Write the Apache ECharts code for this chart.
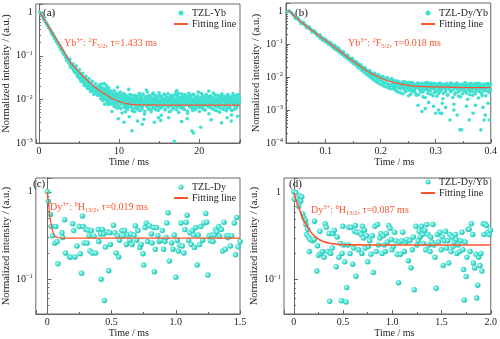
<!DOCTYPE html>
<html><head><meta charset="utf-8">
<script src="https://cdn.jsdelivr.net/npm/echarts@6/dist/echarts.min.js"></script>
<style>html,body{margin:0;padding:0;background:#fff}#c{width:500px;height:339px}</style>
</head><body><div id="c"></div>
<script>
// ---------- Panel (a): TZL-Yb ----------
const aFit = [[0.1,1.0],[0.5,0.76],[1,0.537],[1.5,0.38],[2,0.269],[2.5,0.191],[3,0.135],[3.5,0.095],[3.7,0.083],[4,0.068],[4.5,0.054],[5,0.043],[5.5,0.034],[6,0.028],[6.5,0.023],[7,0.019],[7.5,0.0163],[8,0.014],[8.5,0.0124],[9,0.0108],[9.5,0.0097],[10,0.009],[10.5,0.0084],[11,0.008],[11.5,0.0077],[12,0.0076],[13,0.0075],[15,0.0074],[20,0.0074],[25.1,0.0074]];
const aDecay = [[0.1,1.0],[0.2,0.95],[0.3,0.86],[0.4,0.80],[0.5,0.76],[0.6,0.69],[0.7,0.66],[0.8,0.60],[0.9,0.57],[1.0,0.52],[1.1,0.50],[1.2,0.45],[1.3,0.43],[1.4,0.39],[1.5,0.37],[1.6,0.34],[1.7,0.33],[1.8,0.29],[1.9,0.28],[2.0,0.26],[2.1,0.24],[2.2,0.225],[2.3,0.205],[2.4,0.196],[2.5,0.178],[2.6,0.170],[2.7,0.152],[2.8,0.148],[2.9,0.134],[3.0,0.128],[3.1,0.115],[3.2,0.110],[3.3,0.100],[3.4,0.097],[3.5,0.086],[3.6,0.083],[3.7,0.076],[3.8,0.073],[3.9,0.066],[4.0,0.064],[4.1,0.058],[4.2,0.058],[4.3,0.052],[4.4,0.053],[4.5,0.047],[4.6,0.048],[4.7,0.042],[4.8,0.044],[4.9,0.038],[5.0,0.041],[5.1,0.035],[5.2,0.037],[5.3,0.032],[5.4,0.034],[5.5,0.029],[5.6,0.031],[5.7,0.027],[5.8,0.029],[5.9,0.025],[6.0,0.026],[6.1,0.023],[6.2,0.025],[6.3,0.021],[6.4,0.023],[6.5,0.020],[6.6,0.021],[6.7,0.018],[6.8,0.020],[6.9,0.017],[7.0,0.018],
[1.55,0.33],[1.75,0.29],[1.95,0.25],[2.15,0.21],[2.35,0.19],[2.55,0.16],[2.75,0.14],[2.95,0.12],[3.15,0.105],[3.35,0.090],[3.55,0.080],[3.75,0.068],[3.95,0.060],[4.15,0.052],[4.35,0.047],[4.55,0.041],[4.75,0.037],[4.95,0.032],[5.15,0.029],[5.35,0.027],[5.55,0.024],[5.75,0.022],[5.95,0.020],[6.15,0.019],[6.35,0.017],[6.55,0.016],[6.75,0.015],[6.95,0.014],
[4.65,0.058],[5.05,0.048],[5.45,0.040],[5.85,0.034],[6.25,0.030],[6.65,0.026],[7.05,0.023],[4.25,0.066],[3.85,0.084],
[3.45,0.078],[3.9,0.056],[4.4,0.043],[4.85,0.033],[5.25,0.026],[5.65,0.021],[6.05,0.018],[6.45,0.015],[6.85,0.013],
[7.1,0.016],[7.2,0.019],[7.3,0.015],[7.4,0.017],[7.15,0.0135],[7.35,0.0125]];
const aNoise = [[7.50,0.0214],[7.57,0.0138],[7.64,0.0173],[7.71,0.0104],[7.78,0.0226],[7.85,0.0145],[7.92,0.0108],[7.99,0.0166],[8.06,0.0128],[8.13,0.0230],[8.20,0.0078],[8.27,0.0140],[8.34,0.0178],[8.41,0.0103],[8.48,0.0126],[8.55,0.0151],[8.62,0.0076],[8.69,0.0186],[8.76,0.0104],[8.83,0.0130],[8.90,0.0082],[8.97,0.0155],[9.04,0.0101],[9.11,0.0053],[9.18,0.0130],[9.25,0.0108],[9.32,0.0083],[9.39,0.0160],[9.46,0.0068],[9.53,0.0111],[9.60,0.0082],[9.67,0.0124],[9.74,0.0063],[9.81,0.0102],[9.88,0.0089],[9.95,0.0135],[10.02,0.0105],[10.09,0.0066],[10.16,0.0147],[10.23,0.0080],[10.30,0.0090],[10.37,0.0049],[10.44,0.0114],[10.51,0.0084],[10.58,0.0067],[10.65,0.0103],[10.72,0.0129],[10.79,0.0052],[10.86,0.0072],[10.93,0.0116],[11.00,0.0091],[11.07,0.0059],[11.14,0.0076],[11.21,0.0100],[11.28,0.0040],[11.35,0.0129],[11.42,0.0085],[11.49,0.0066],[11.56,0.0090],[11.63,0.0055],[11.70,0.0103],[11.77,0.0076],[11.84,0.0116],[11.91,0.0052],[11.98,0.0086],
[12.05,0.0098],[12.12,0.0071],[12.19,0.0120],[12.26,0.0084],[12.33,0.0062],[12.40,0.0105],[12.47,0.0091],[12.54,0.0139],[12.61,0.0076],[12.68,0.0055],[12.75,0.0110],[12.82,0.0088],[12.89,0.0067],[12.96,0.0127],[13.03,0.0095],[13.10,0.0079],[13.17,0.0046],[13.24,0.0115],[13.31,0.0086],[13.38,0.0102],[13.45,0.0069],[13.52,0.0149],[13.59,0.0083],[13.66,0.0060],[13.73,0.0097],[13.80,0.0118],[13.87,0.0074],[13.94,0.0090],[14.01,0.0052],[14.08,0.0108],[14.15,0.0131],[14.22,0.0081],[14.29,0.0065],[14.36,0.0099],[14.43,0.0087],[14.50,0.0122],[14.57,0.0058],[14.64,0.0093],[14.71,0.0077],[14.78,0.0112],[14.85,0.0101],[14.92,0.0070],[14.99,0.0142],[15.06,0.0085],[15.13,0.0063],[15.20,0.0096],[15.27,0.0043],[15.34,0.0117],[15.41,0.0089],[15.48,0.0075],[15.55,0.0104],[15.62,0.0128],[15.69,0.0080],[15.76,0.0057],[15.83,0.0094],[15.90,0.0109],[15.97,0.0072],[16.04,0.0086],[16.11,0.0135],[16.18,0.0066],[16.25,0.0100],[16.32,0.0082],[16.39,0.0113],[16.46,0.0054],[16.53,0.0092],[16.60,0.0078],[16.67,0.0124],[16.74,0.0088],[16.81,0.0061],[16.88,0.0106],[16.95,0.0097],[17.02,0.0073],[17.09,0.0145],[17.16,0.0084],[17.23,0.0068],[17.30,0.0101],[17.37,0.0119],[17.44,0.0050],[17.51,0.0090],[17.58,0.0079],[17.65,0.0111],[17.72,0.0094],[17.79,0.0064],[17.86,0.0133],[17.93,0.0087],[18.00,0.0071],[18.07,0.0103],[18.14,0.0059],[18.21,0.0096],[18.28,0.0121],[18.35,0.0083],[18.42,0.0076],[18.49,0.0107],[18.56,0.0048],[18.63,0.0092],[18.70,0.0138],[18.77,0.0081],[18.84,0.0067],[18.91,0.0099],[18.98,0.0114],[19.05,0.0074],[19.12,0.0088],[19.19,0.0056],[19.26,0.0126],[19.33,0.0095],[19.40,0.0070],[19.47,0.0104],[19.54,0.0085],[19.61,0.0062],[19.68,0.0116],[19.75,0.0091],[19.82,0.0078],[19.89,0.0147],[19.96,0.0083],[20.03,0.0053],[20.10,0.0100],[20.17,0.0072],[20.24,0.0110],[20.31,0.0089],[20.38,0.0065],[20.45,0.0123],[20.52,0.0097],[20.59,0.0080],[20.66,0.0058],[20.73,0.0106],[20.80,0.0086],[20.87,0.0130],[20.94,0.0075],[21.01,0.0093],[21.08,0.0069],[21.15,0.0112],[21.22,0.0047],[21.29,0.0098],[21.36,0.0084],[21.43,0.0120],[21.50,0.0077],[21.57,0.0063],[21.64,0.0102],[21.71,0.0090],[21.78,0.0140],[21.85,0.0079],[21.92,0.0057],[21.99,0.0095],[22.06,0.0108],[22.13,0.0073],[22.20,0.0087],[22.27,0.0125],[22.34,0.0066],[22.41,0.0099],[22.48,0.0082],[22.55,0.0051],[22.62,0.0113],[22.69,0.0094],[22.76,0.0076],[22.83,0.0134],[22.90,0.0088],[22.97,0.0061],[23.04,0.0101],[23.11,0.0118],[23.18,0.0070],[23.25,0.0092],[23.32,0.0081],[23.39,0.0055],[23.46,0.0109],[23.53,0.0086],[23.60,0.0127],[23.67,0.0074],[23.74,0.0096],[23.81,0.0064],[23.88,0.0115],[23.95,0.0083],[24.02,0.0044],[24.09,0.0103],[24.16,0.0090],[24.23,0.0136],[24.30,0.0078],[24.37,0.0059],[24.44,0.0097],[24.51,0.0121],[24.58,0.0085],[24.65,0.0068],[24.72,0.0105],[24.79,0.0093],[24.86,0.0072],[24.93,0.0129],[25.00,0.0087],
[11.6,0.0019],[16.9,0.0011],[19.1,0.0019],[19.3,0.0017],[20.2,0.0023],[12.3,0.0032],[13.1,0.0035],[14.4,0.0030],[15.2,0.0033],[17.8,0.0031],[18.5,0.0036],[21.5,0.0034],[22.8,0.0029],[24.0,0.0032],[9.9,0.0036],[10.6,0.0030],[23.5,0.0038],[12.9,0.0027],[16.2,0.0038],[14.9,0.0038],[24.8,0.0041],[8.4,0.021],[9.8,0.019],[11.2,0.017],[13.4,0.0165],[17.2,0.016],[21.2,0.0155]];
const aNoise2 = [[7.535,0.0158],[7.605,0.0195],[7.675,0.0121],[7.745,0.0167],[7.815,0.0132],[7.885,0.0188],[7.955,0.0094],[8.025,0.0149],[8.095,0.0116],[8.165,0.0170],[8.235,0.0124],[8.305,0.0098],[8.375,0.0152],[8.445,0.0119],[8.515,0.0087],[8.585,0.0137],[8.655,0.0110],[8.725,0.0161],[8.795,0.0093],[8.865,0.0121],[8.935,0.0142],[9.005,0.0079],[9.075,0.0117],[9.145,0.0136],[9.215,0.0095],[9.285,0.0122],[9.355,0.0071],[9.425,0.0128],[9.495,0.0092],[9.565,0.0140],[9.635,0.0103],[9.705,0.0085],[9.775,0.0118],[9.845,0.0074],[9.915,0.0109],[9.985,0.0126],[10.055,0.0088],[10.125,0.0112],[10.195,0.0061],[10.265,0.0101],[10.335,0.0124],[10.405,0.0083],[10.475,0.0096],[10.545,0.0136],[10.615,0.0078],[10.685,0.0092],[10.755,0.0110],[10.825,0.0064],[10.895,0.0098],[10.965,0.0120],[11.035,0.0081],[11.105,0.0107],[11.175,0.0069],[11.245,0.0093],[11.315,0.0115],[11.385,0.0074],[11.455,0.0101],[11.525,0.0126],[11.595,0.0080],[11.665,0.0094],[11.735,0.0061],[11.805,0.0106],[11.875,0.0089],[11.945,0.0124],
[12.015,0.0091],[12.085,0.0064],[12.155,0.0113],[12.225,0.0078],[12.295,0.0102],[12.365,0.0057],[12.435,0.0087],[12.505,0.0125],[12.575,0.0070],[12.645,0.0095],
[12.715,0.0082],[12.785,0.0108],[12.855,0.0061],[12.925,0.0099],[12.995,0.0133],[13.065,0.0076],[13.135,0.0089],[13.205,0.0053],[13.275,0.0104],[13.345,0.0092],
[13.415,0.0072],[13.485,0.0117],[13.555,0.0085],[13.625,0.0066],[13.695,0.0098],[13.765,0.0122],[13.835,0.0080],[13.905,0.0093],[13.975,0.0059],[14.045,0.0110],
[14.115,0.0087],[14.185,0.0074],[14.255,0.0141],[14.325,0.0096],[14.395,0.0063],[14.465,0.0106],[14.535,0.0081],[14.605,0.0119],[14.675,0.0068],[14.745,0.0090],
[14.815,0.0101],[14.885,0.0056],[14.955,0.0084],[15.025,0.0127],[15.095,0.0077],[15.165,0.0094],[15.235,0.0112],[15.305,0.0065],[15.375,0.0088],[15.445,0.0103],
[15.515,0.0073],[15.585,0.0098],[15.655,0.0132],[15.725,0.0060],[15.795,0.0091],[15.865,0.0079],[15.935,0.0115],[16.005,0.0086],[16.075,0.0069],[16.145,0.0107],
[16.215,0.0095],[16.285,0.0052],[16.355,0.0083],[16.425,0.0121],[16.495,0.0074],[16.565,0.0100],[16.635,0.0088],[16.705,0.0063],[16.775,0.0113],[16.845,0.0080],
[16.915,0.0097],[16.985,0.0071],[17.055,0.0126],[17.125,0.0085],[17.195,0.0058],[17.265,0.0104],[17.335,0.0092],[17.405,0.0077],[17.475,0.0139],[17.545,0.0083],
[17.615,0.0066],[17.685,0.0109],[17.755,0.0094],[17.825,0.0073],[17.895,0.0118],[17.965,0.0087],[18.035,0.0061],[18.105,0.0100],[18.175,0.0082],[18.245,0.0128],
[18.315,0.0075],[18.385,0.0093],[18.455,0.0106],[18.525,0.0054],[18.595,0.0089],[18.665,0.0115],[18.735,0.0079],[18.805,0.0097],[18.875,0.0068],[18.945,0.0124],
[19.015,0.0086],[19.085,0.0102],[19.155,0.0063],[19.225,0.0095],[19.295,0.0131],[19.365,0.0077],[19.435,0.0090],[19.505,0.0058],[19.575,0.0111],[19.645,0.0084],
[19.715,0.0099],[19.785,0.0070],[19.855,0.0119],[19.925,0.0088],[19.995,0.0065],[20.065,0.0105],[20.135,0.0093],[20.205,0.0076],[20.275,0.0136],[20.345,0.0081],
[20.415,0.0062],[20.485,0.0097],[20.555,0.0114],[20.625,0.0073],[20.695,0.0090],[20.765,0.0057],[20.835,0.0108],[20.905,0.0086],[20.975,0.0125],[21.045,0.0079],
[21.115,0.0094],[21.185,0.0067],[21.255,0.0103],[21.325,0.0088],[21.395,0.0072],[21.465,0.0120],[21.535,0.0083],[21.605,0.0061],[21.675,0.0099],[21.745,0.0112],
[21.815,0.0076],[21.885,0.0091],[21.955,0.0130],[22.025,0.0069],[22.095,0.0087],[22.165,0.0055],[22.235,0.0106],[22.305,0.0095],[22.375,0.0080],[22.445,0.0117],
[22.515,0.0084],[22.585,0.0064],[22.655,0.0098],[22.725,0.0123],[22.795,0.0075],[22.865,0.0092],[22.935,0.0108],[23.005,0.0059],[23.075,0.0089],[23.145,0.0101],
[23.215,0.0071],[23.285,0.0116],[23.355,0.0085],[23.425,0.0096],[23.495,0.0062],[23.565,0.0129],[23.635,0.0078],[23.705,0.0093],[23.775,0.0107],[23.845,0.0067],
[23.915,0.0088],[23.985,0.0104],[24.055,0.0056],[24.125,0.0097],[24.195,0.0121],[24.265,0.0080],[24.335,0.0091],[24.405,0.0073],[24.475,0.0114],[24.545,0.0086],
[24.615,0.0063],[24.685,0.0099],[24.755,0.0127],[24.825,0.0076],[24.895,0.0094],[24.965,0.0082],[25.035,0.0110]];

// ---------- Panel (b): TZL-Dy/Yb ----------
const bFit = [[0.031,0.98],[0.034,1.0],[0.04,0.80],[0.05,0.56],[0.06,0.41],[0.07,0.30],[0.08,0.225],[0.09,0.170],[0.10,0.128],[0.11,0.096],[0.12,0.072],[0.13,0.054],[0.14,0.040],[0.15,0.030],[0.16,0.023],[0.17,0.0175],[0.18,0.0138],[0.19,0.0112],[0.20,0.0093],[0.21,0.0080],[0.22,0.0071],[0.23,0.0065],[0.24,0.0060],[0.25,0.0056],[0.27,0.0052],[0.30,0.0050],[0.35,0.0048],[0.40,0.0048]];
const bDecay = [[0.031,0.97],[0.033,1.0],[0.035,0.97],[0.037,0.90],[0.039,0.83],[0.041,0.78],[0.043,0.71],[0.045,0.67],[0.047,0.61],[0.049,0.58],[0.051,0.54],[0.053,0.50],[0.055,0.47],[0.057,0.44],[0.059,0.42],[0.061,0.39],[0.063,0.37],[0.065,0.345],[0.067,0.33],[0.069,0.305],[0.071,0.29],[0.073,0.275],[0.075,0.258],[0.077,0.245],[0.079,0.228],[0.081,0.218],[0.083,0.205],[0.085,0.196],[0.087,0.183],[0.089,0.176],[0.091,0.164],[0.093,0.157],[0.095,0.147],[0.097,0.141],[0.099,0.131],[0.101,0.126],[0.103,0.117],[0.105,0.113],[0.107,0.104],[0.109,0.101],[0.111,0.092],[0.113,0.090],[0.115,0.082],[0.117,0.080],[0.119,0.073],[0.121,0.071],[0.123,0.065],[0.125,0.064],[0.127,0.057],[0.129,0.057],[0.131,0.051],[0.133,0.050],[0.135,0.045],[0.137,0.045],[0.139,0.040],[0.141,0.040],[0.143,0.035],[0.145,0.036],[0.147,0.031],[0.149,0.032],[0.151,0.028],[0.153,0.029],[0.155,0.025],[0.157,0.026],[0.159,0.022],[0.161,0.023],[0.163,0.0198],[0.165,0.021],[0.167,0.0178],[0.169,0.019],[0.171,0.0158],[0.173,0.0168],[0.175,0.0142],[0.177,0.0152],[0.179,0.0128],[0.181,0.0140],[0.183,0.0115],[0.185,0.0128],[0.187,0.0104],[0.189,0.0118],[0.191,0.0094],[0.193,0.0110],[0.195,0.0087],[0.197,0.0102],[0.199,0.0080],[0.201,0.0097],[0.203,0.0074],[0.205,0.0092],[0.207,0.0069],[0.209,0.0088],[0.211,0.0064],[0.213,0.0084],[0.215,0.0060],[0.217,0.0081],[0.219,0.0056],
[0.090,0.150],[0.094,0.135],[0.098,0.122],[0.102,0.112],[0.106,0.098],[0.110,0.087],[0.114,0.078],[0.118,0.068],[0.122,0.062],[0.126,0.054],[0.130,0.048],[0.134,0.043],[0.138,0.038],[0.142,0.034],[0.146,0.030],[0.150,0.026],[0.154,0.024],[0.158,0.020],[0.162,0.018],[0.166,0.0158],[0.170,0.0140],[0.174,0.0122],[0.178,0.0108],[0.182,0.0095],[0.186,0.0085],[0.190,0.0076],[0.194,0.0068],[0.198,0.0062],[0.202,0.0058],[0.206,0.0053],[0.210,0.0050],[0.214,0.0047],[0.218,0.0044],
[0.100,0.140],[0.108,0.112],[0.116,0.091],[0.124,0.074],[0.132,0.058],[0.140,0.046],[0.148,0.037],[0.156,0.029],[0.164,0.0235],[0.172,0.0190],[0.180,0.0158],[0.188,0.0132],[0.196,0.0116],[0.204,0.0104],[0.212,0.0096],[0.220,0.0090],
[0.045,0.60],[0.050,0.61],[0.055,0.42],[0.060,0.45],[0.065,0.31],[0.070,0.33],[0.075,0.232],[0.080,0.245],[0.085,0.176],[0.090,0.187],[0.095,0.132],[0.105,0.100],[0.110,0.105],[0.115,0.074],[0.120,0.079],[0.125,0.056],[0.130,0.059],[0.135,0.041],[0.140,0.044],[0.145,0.031],[0.150,0.033],[0.155,0.023],[0.160,0.025],[0.165,0.0175],[0.170,0.0192],[0.175,0.0135],[0.180,0.0150],[0.185,0.0105],[0.190,0.0122],[0.195,0.0083],[0.200,0.0101],[0.205,0.0066],[0.210,0.0085],[0.215,0.0052],[0.220,0.0078]];
const bNoise = [[0.2215,0.0062],[0.2230,0.0045],[0.2245,0.0078],[0.2260,0.0052],[0.2275,0.0068],[0.2290,0.0038],[0.2305,0.0060],[0.2320,0.0073],[0.2335,0.0047],[0.2350,0.0056],[0.2365,0.0033],[0.2380,0.0065],[0.2395,0.0050],[0.2410,0.0071],[0.2425,0.0042],[0.2440,0.0058],[0.2455,0.0036],[0.2470,0.0063],[0.2485,0.0048],[0.2500,0.0069],[0.2515,0.0040],[0.2530,0.0054],[0.2545,0.0030],[0.2560,0.0061],[0.2575,0.0046],[0.2590,0.0066],[0.2605,0.0037],[0.2620,0.0052],[0.2635,0.0059],[0.2650,0.0028],[0.2665,0.0049],[0.2680,0.0064],[0.2695,0.0043],[0.2710,0.0055],[0.2725,0.0035],[0.2740,0.0062],[0.2755,0.0047],[0.2770,0.0025],[0.2785,0.0057],[0.2800,0.0041],[0.2815,0.0067],[0.2830,0.0044],[0.2845,0.0053],[0.2860,0.0032],[0.2875,0.0060],[0.2890,0.0048],[0.2905,0.0038],[0.2920,0.0065],[0.2935,0.0051],[0.2950,0.0027],[0.2965,0.0056],[0.2980,0.0043],[0.2995,0.0062],[0.3010,0.0036],[0.3025,0.0050],[0.3040,0.0058],[0.3055,0.0031],[0.3070,0.0046],[0.3085,0.0064],[0.3100,0.0040],[0.3115,0.0054],[0.3130,0.0022],[0.3145,0.0059],[0.3160,0.0045],[0.3175,0.0035],[0.3190,0.0061],[0.3205,0.0049],[0.3220,0.0029],[0.3235,0.0056],[0.3250,0.0042],[0.3265,0.0066],[0.3280,0.0038],[0.3295,0.0052],[0.3310,0.0024],[0.3325,0.0058],[0.3340,0.0047],[0.3355,0.0033],[0.3370,0.0063],[0.3385,0.0044],[0.3400,0.0055],[0.3415,0.0026],[0.3430,0.0050],[0.3445,0.0039],[0.3460,0.0060],[0.3475,0.0046],[0.3490,0.0031],[0.3505,0.0057],[0.3520,0.0041],[0.3535,0.0067],[0.3550,0.0035],[0.3565,0.0053],[0.3580,0.0021],[0.3595,0.0048],[0.3610,0.0062],[0.3625,0.0037],[0.3640,0.0055],[0.3655,0.0044],[0.3670,0.0028],[0.3685,0.0059],[0.3700,0.0046],[0.3715,0.0034],[0.3730,0.0064],[0.3745,0.0040],[0.3760,0.0052],[0.3775,0.0023],[0.3790,0.0057],[0.3805,0.0043],[0.3820,0.0061],[0.3835,0.0032],[0.3850,0.0049],[0.3865,0.0038],[0.3880,0.0058],[0.3895,0.0045],[0.3910,0.0027],[0.3925,0.0054],[0.3940,0.0063],[0.3955,0.0036],[0.3970,0.0051],[0.3985,0.0042],[0.4000,0.0059],
[0.268,0.0014],[0.281,0.0011],[0.287,0.0017],[0.296,0.0013],[0.305,0.0010],[0.312,0.0016],[0.318,0.0012],[0.333,0.0015],[0.356,0.0013],[0.372,0.0014],[0.386,0.0012],[0.395,0.0016],[0.275,0.0009],[0.300,0.0008],[0.308,0.0008],[0.311,0.0008],[0.326,0.0005],[0.333,0.0010],[0.344,0.00025],[0.347,0.00025],[0.361,0.0005],[0.368,0.0008],[0.382,0.00025],[0.388,0.0005],[0.390,0.0007],[0.398,0.0005],[0.339,0.0007]];
const bNoise2 = [[0.2223,0.0055],[0.2238,0.0070],[0.2253,0.0041],[0.2268,0.0063],[0.2283,0.0049],[0.2298,0.0076],[0.2313,0.0035],[0.2328,0.0058],[0.2343,0.0067],[0.2358,0.0044],
[0.2373,0.0052],[0.2388,0.0061],[0.2403,0.0031],[0.2418,0.0057],[0.2433,0.0072],[0.2448,0.0046],[0.2463,0.0039],[0.2478,0.0064],[0.2493,0.0050],[0.2508,0.0027],
[0.2523,0.0060],[0.2538,0.0045],[0.2553,0.0069],[0.2568,0.0037],[0.2583,0.0054],[0.2598,0.0062],[0.2613,0.0042],[0.2628,0.0033],[0.2643,0.0058],[0.2658,0.0048],
[0.2673,0.0066],[0.2688,0.0029],[0.2703,0.0051],[0.2718,0.0057],[0.2733,0.0040],[0.2748,0.0063],[0.2763,0.0035],[0.2778,0.0047],[0.2793,0.0059],[0.2808,0.0024],
[0.2823,0.0053],[0.2838,0.0044],[0.2853,0.0068],[0.2868,0.0038],[0.2883,0.0050],[0.2898,0.0061],[0.2913,0.0030],[0.2928,0.0056],[0.2943,0.0045],[0.2958,0.0064],
[0.2973,0.0034],[0.2988,0.0049],[0.3003,0.0058],[0.3018,0.0026],[0.3033,0.0052],[0.3048,0.0041],[0.3063,0.0065],[0.3078,0.0037],[0.3093,0.0055],[0.3108,0.0046],
[0.3123,0.0060],[0.3138,0.0032],[0.3153,0.0048],[0.3168,0.0057],[0.3183,0.0039],[0.3198,0.0063],[0.3213,0.0028],[0.3228,0.0051],[0.3243,0.0044],[0.3258,0.0059],
[0.3273,0.0036],[0.3288,0.0054],[0.3303,0.0062],[0.3318,0.0041],[0.3333,0.0047],[0.3348,0.0030],[0.3363,0.0058],[0.3378,0.0049],[0.3393,0.0066],[0.3408,0.0035],
[0.3423,0.0052],[0.3438,0.0043],[0.3453,0.0025],[0.3468,0.0057],[0.3483,0.0046],[0.3498,0.0061],[0.3513,0.0038],[0.3528,0.0050],[0.3543,0.0064],[0.3558,0.0033],
[0.3573,0.0055],[0.3588,0.0042],[0.3603,0.0059],[0.3618,0.0029],[0.3633,0.0048],[0.3648,0.0063],[0.3663,0.0037],[0.3678,0.0053],[0.3693,0.0045],[0.3708,0.0060],
[0.3723,0.0031],[0.3738,0.0051],[0.3753,0.0057],[0.3768,0.0040],[0.3783,0.0065],[0.3798,0.0036],[0.3813,0.0049],[0.3828,0.0056],[0.3843,0.0027],[0.3858,0.0052],
[0.3873,0.0044],[0.3888,0.0061],[0.3903,0.0039],[0.3918,0.0054],[0.3933,0.0047],[0.3948,0.0058],[0.3963,0.0034],[0.3978,0.0062],[0.3993,0.0043]];

// ---------- Panel (c): TZL-Dy ----------
const cFit = [[0,1.0],[0.01,0.70],[0.02,0.52],[0.03,0.42],[0.04,0.36],[0.05,0.33],[0.06,0.31],[0.08,0.30],[0.10,0.296],[0.15,0.295],[0.5,0.295],[1.0,0.295],[1.5,0.295]];
const cPts = [[0,1.0],[0.0075,0.78],[0.024,0.55],[0.032,0.40],[0.065,0.40],[0.04,0.315],[0.057,0.258],[0.075,0.27],[0.082,0.15],[0.113,0.34],[0.12,0.30],[0.134,0.48],[0.141,0.20],[0.172,0.18],[0.18,0.18],[0.197,0.43],[0.205,0.36],[0.215,0.18],[0.23,0.24],[0.248,0.40],[0.256,0.196],[0.266,0.117],[0.273,0.53],[0.28,0.40],[0.286,0.26],[0.30,0.37],[0.31,0.26],[0.317,0.365],[0.324,0.315],[0.332,0.21],[0.342,0.36],[0.35,0.20],[0.363,0.31],[0.375,0.20],[0.396,0.37],[0.40,0.27],[0.414,0.33],[0.418,0.10],[0.429,0.37],[0.44,0.33],[0.444,0.057],[0.452,0.233],[0.465,0.35],[0.477,0.125],[0.485,0.34],[0.49,0.25],[0.515,0.415],[0.525,0.34],[0.535,0.20],[0.546,0.315],[0.561,0.28],[0.555,0.18],[0.58,0.36],[0.59,0.315],[0.60,0.36],[0.615,0.25],[0.625,0.32],[0.643,0.28],[0.65,0.33],[0.66,0.25],[0.675,0.32],[0.685,0.41],[0.695,0.28],[0.705,0.36],[0.72,0.23],[0.73,0.25],[0.745,0.196],[0.75,0.145],[0.76,0.39],[0.77,0.44],[0.78,0.27],[0.795,0.41],[0.81,0.33],[0.815,0.26],[0.825,0.39],[0.833,0.122],[0.84,0.22],[0.85,0.39],[0.86,0.315],[0.87,0.27],[0.883,0.28],[0.895,0.36],[0.905,0.22],[0.915,0.27],[0.925,0.30],[0.93,0.44],[0.94,0.575],[0.95,0.162],[0.968,0.26],[0.978,0.22],[0.988,0.32],[1.0,0.105],[1.012,0.28],[1.02,0.21],[1.03,0.245],[1.04,0.44],[1.05,0.24],[1.063,0.20],[1.07,0.37],[1.08,0.45],[1.088,0.54],[1.1,0.28],[1.11,0.34],[1.12,0.25],[1.13,0.36],[1.14,0.32],[1.145,0.23],[1.155,0.39],[1.166,0.145],[1.175,0.32],[1.185,0.25],[1.195,0.40],[1.21,0.28],[1.22,0.44],[1.233,0.565],[1.24,0.45],[1.25,0.112],[1.26,0.315],[1.27,0.275],[1.28,0.32],[1.29,0.27],[1.3,0.32],[1.31,0.37],[1.32,0.35],[1.335,0.40],[1.34,0.31],[1.355,0.37],[1.365,0.21],[1.375,0.45],[1.385,0.22],[1.395,0.315],[1.405,0.30],[1.415,0.315],[1.425,0.24],[1.435,0.315],[1.455,0.44],[1.465,0.19],[1.475,0.51],[1.485,0.235],[1.5,0.27]];

// ---------- Panel (d): TZL-Dy/Yb ----------
const dFit = [[0,1.0],[0.025,0.81],[0.05,0.672],[0.075,0.567],[0.1,0.488],[0.15,0.384],[0.2,0.325],[0.25,0.292],[0.3,0.274],[0.35,0.263],[0.4,0.258],[0.5,0.252],[0.6,0.251],[1.0,0.25],[2.0,0.25]];
const dPts = [[0,1.03],[0.02,1.0],[0.005,0.85],[0.035,0.85],[0.049,0.70],[0.063,0.92],[0.08,0.90],[0.07,0.80],[0.09,0.57],[0.10,0.52],[0.117,0.48],[0.123,0.43],[0.14,0.38],[0.13,0.33],[0.15,0.31],[0.165,0.29],[0.157,0.21],[0.19,0.28],[0.207,0.29],[0.21,0.47],[0.233,0.125],[0.24,0.245],[0.25,0.19],[0.264,0.36],[0.274,0.20],[0.29,0.21],[0.307,0.18],[0.317,0.44],[0.33,0.40],[0.343,0.21],[0.357,0.34],[0.364,0.056],[0.374,0.20],[0.39,0.23],[0.397,0.34],[0.41,0.37],[0.43,0.14],[0.44,0.31],[0.457,0.18],[0.474,0.26],[0.483,0.057],[0.49,0.20],[0.497,0.41],[0.507,0.25],[0.517,0.16],[0.53,0.055],[0.537,0.081],[0.55,0.25],[0.557,0.40],[0.57,0.20],[0.58,0.40],[0.597,0.15],[0.607,0.23],[0.617,0.36],[0.624,0.42],[0.63,0.109],[0.643,0.35],[0.657,0.22],[0.667,0.35],[0.683,0.33],[0.69,0.20],[0.697,0.41],[0.707,0.30],[0.717,0.37],[0.723,0.23],[0.74,0.32],[0.75,0.16],[0.757,0.24],[0.77,0.28],[0.783,0.195],[0.797,0.32],[0.807,0.12],[0.823,0.41],[0.837,0.21],[0.85,0.43],[0.857,0.25],[0.873,0.30],[0.883,0.34],[0.897,0.20],[0.907,0.32],[0.917,0.25],[0.93,0.21],[0.94,0.34],[0.95,0.27],[0.963,0.42],[0.977,0.39],[0.99,0.29],[0.997,0.22],[1.01,0.24],[1.023,0.35],[1.037,0.28],[1.05,0.195],[1.063,0.092],[1.073,0.27],[1.083,0.195],[1.097,0.28],[1.107,0.35],[1.123,0.21],[1.137,0.27],[1.15,0.29],[1.163,0.165],[1.177,0.28],[1.19,0.137],[1.203,0.22],[1.213,0.31],[1.223,0.076],[1.24,0.41],[1.25,0.25],[1.263,0.28],[1.273,0.36],[1.283,0.31],[1.297,0.41],[1.307,0.33],[1.317,0.26],[1.33,0.37],[1.34,0.22],[1.35,0.43],[1.363,0.33],[1.373,0.25],[1.383,0.21],[1.39,0.31],[1.403,0.27],[1.413,0.43],[1.423,0.25],[1.433,0.18],[1.443,0.079],[1.457,0.33],[1.47,0.27],[1.483,0.35],[1.497,0.22],[1.507,0.31],[1.517,0.145],[1.53,0.28],[1.54,0.36],[1.55,0.23],[1.563,0.28],[1.573,0.155],[1.583,0.33],[1.597,0.21],[1.607,0.31],[1.617,0.24],[1.63,0.27],[1.64,0.33],[1.65,0.29],[1.657,0.20],[1.67,0.25],[1.683,0.21],[1.697,0.28],[1.707,0.35],[1.717,0.22],[1.723,0.13],[1.73,0.058],[1.74,0.27],[1.75,0.108],[1.757,0.18],[1.77,0.38],[1.78,0.38],[1.79,0.21],[1.803,0.44],[1.817,0.33],[1.823,0.155],[1.837,0.136],[1.85,0.195],[1.857,0.061],[1.867,0.086],[1.877,0.18],[1.89,0.145],[1.9,0.20],[1.91,0.125],[1.923,0.44],[1.93,0.33],[1.943,0.44],[1.957,0.42],[1.97,0.35],[1.983,0.33],[1.997,0.37]];

// ---------- labels ----------
const seriesNames = ['TZL-Yb','TZL-Dy/Yb','TZL-Dy','TZL-Dy/Yb'];
const panelTags = ['(a)','(b)','(c)','(d)'];
const notes = ['Yb{p|3+}: {p|2}F{q|5/2}, τ=1.433 ms','Yb{p|3+}: {p|2}F{q|5/2}, τ=0.018 ms','Dy{p|3+}: {p|6}H{q|13/2}, τ=0.019 ms','Dy{p|3+}: {p|6}H{q|13/2}, τ=0.087 ms'];
const xName = 'Time / ms';
const yName = 'Normalized intensity / (a.u.)';

const FONT = '"Liberation Serif","Times New Roman",serif';
const RED = '#FF5330';
const CYAN = '#3FE0D0';
const FRAME = '#666';

const grids = [
  {left:33, top:4, width:207, height:139},
  {left:286, top:3, width:209, height:140},
  {left:31, top:178, width:209, height:136},
  {left:284, top:178, width:211, height:136}
];
const xRanges = [[-0.4,25.1,3],[0.028,0.4,4],[-0.09,1.5,3],[-0.1,2.0,4]];
const yRanges = [[0.001,1.55],[0.0001,1.75],[0.04,1.44],[0.04,1.48]];
const xNamePad = [[0,18,0,0],[0,0,0,12],[0,18,0,0],[0,0,0,14]];

function logLabel(v){
  const l = Math.log10(v), r = Math.round(l);
  if (Math.abs(l-r) > 1e-6) return '';
  if (r === 0) return '{b|1}';
  return '{b|10}{s|\u2212' + (-r) + '}';
}

const xAxis = xRanges.map((r,i)=>({
  type:'value', gridIndex:i, min:r[0], max:r[1], splitNumber:r[2],
  name:xName, nameLocation:'middle', nameGap:14,
  nameTextStyle:{fontFamily:FONT, fontSize:10, color:'#222', padding:xNamePad[i]},
  axisLine:{lineStyle:{color:FRAME, width:1}},
  axisTick:{inside:true, length:4, lineStyle:{color:FRAME}},
  minorTick:{show:true, splitNumber:2, length:2, lineStyle:{color:FRAME}},
  splitLine:{show:false},
  axisLabel:{fontFamily:FONT, fontSize:10, color:'#222', margin:3, showMinLabel:false, showMaxLabel: i!==0,
    formatter:(v)=> (Math.abs(v-Math.round(v*10)/10) < 1e-9 ? (i===0 ? String(Math.round(v)) : (v===0?'0':v.toFixed(1))) : '')}
}));
const yAxis = yRanges.map((r,i)=>({
  type:'log', logBase:10, gridIndex:i, min:r[0], max:r[1],
  name:yName, nameLocation:'middle', nameRotate:90, nameGap:[21,22,20,20][i],
  nameTextStyle:{fontFamily:FONT, fontSize:10.5, color:'#222'},
  axisLine:{lineStyle:{color:FRAME, width:1}},
  axisTick:{inside:true, length:4, lineStyle:{color:FRAME}},
  minorTick:{show:true, splitNumber:9, length:2, lineStyle:{color:FRAME}},
  splitLine:{show:false},
  axisLabel:{formatter:logLabel, margin:3,
    rich:{b:{fontFamily:FONT, fontSize:10, color:'#222', lineHeight:12},
          s:{fontFamily:FONT, fontSize:6.5, color:'#222', lineHeight:12, verticalAlign:'top', padding:[0,0,4,0]}}}
}));

const ballColor = {type:'radial', x:0.4, y:0.4, r:0.65, colorStops:[{offset:0,color:'#D8FFFA'},{offset:0.45,color:'#4EE6D6'},{offset:1,color:'#1CB8AA'}]};

const scatterData = [aDecay.concat(aNoise, aNoise2), bDecay.concat(bNoise, bNoise2), cPts, dPts];
const fitData = [aFit, bFit, cFit, dFit];
const series = [];
for (let i=0;i<4;i++){
  series.push({
    name:'s'+i, type:'scatter', xAxisIndex:i, yAxisIndex:i, data:scatterData[i],
    symbolSize: i<2 ? 3.6 : 5.5,
    itemStyle:{color: i<2 ? CYAN : ballColor, opacity:1},
    z:2, silent:true, animation:false
  });
  series.push({
    name:'f'+i, type:'line', xAxisIndex:i, yAxisIndex:i, data:fitData[i],
    symbol:'none', showSymbol:false, smooth:0.4, lineStyle:{color:RED, width: i===3?1.6:1.2},
    itemStyle:{color:'rgba(0,0,0,0)', borderWidth:0},
    z:3, silent:true, animation:false
  });
}

const legendPos = [[173,8],[420,8],[173,182],[420,177]];
const legend = legendPos.map((p,i)=>({
  left:p[0], top:p[1], orient:'vertical', padding:0, itemGap:1, itemWidth:14, itemHeight:5,
  selectedMode:false,
  textStyle:{fontFamily:FONT, fontSize:10, color:'#222', padding:[0,0,0,-1]},
  formatter:(n)=> n[0]==='s' ? seriesNames[i] : 'Fitting line',
  data:[{name:'s'+i, icon:'circle'}, {name:'f'+i}]
}));

const tagPos = [[43,13],[295,13],[33,184],[289,184]];
const notePos = [[64,43],[348,43],[50,207],[311,210]];
const graphic = [];
for (let i=0;i<4;i++){
  graphic.push({type:'text', x:tagPos[i][0], y:tagPos[i][1], silent:true,
    style:{text:panelTags[i], font:'11px '+FONT, fill:'#111', verticalAlign:'middle'}});
  graphic.push({type:'text', x:notePos[i][0], y:notePos[i][1], silent:true,
    style:{text:notes[i], font:'10px '+FONT, fill:RED, verticalAlign:'middle', lineHeight:13,
      rich:{p:{fontFamily:FONT, fontSize:6.5, fill:RED, lineHeight:13, verticalAlign:'top'},
            q:{fontFamily:FONT, fontSize:6.5, fill:RED, lineHeight:13, verticalAlign:'bottom'}}}});
}

const chart = echarts.init(document.getElementById('c'), null, {renderer:'canvas'});
chart.setOption({
  animation:false,
  backgroundColor:'#fff',
  grid: grids.map(g=>Object.assign({show:true, borderColor:FRAME, borderWidth:1, backgroundColor:'transparent', containLabel:false}, g)),
  xAxis, yAxis, series, legend, graphic
});
</script></body></html>
